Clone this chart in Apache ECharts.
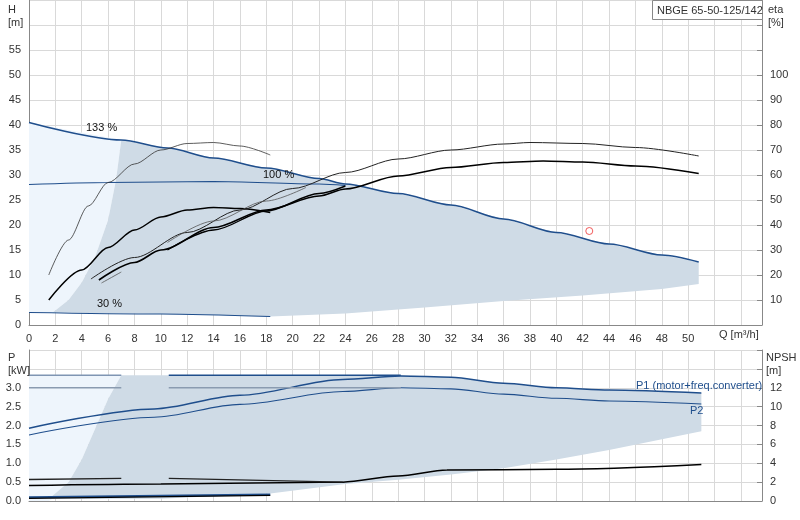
<!DOCTYPE html><html><head><meta charset="utf-8">
<script src="https://cdn.jsdelivr.net/npm/echarts@6/dist/echarts.min.js"></script>
<style>html,body{margin:0;padding:0;background:#fff}#c{width:800px;height:520px}</style></head><body><div id="c"></div>
<script>
// ---- data (Q in m3/h) ----
const maxCurve=[[0,40.5],[7,37],[10.5,35.4],[14,33.4],[18,31.4],[22,29.3],[24,28.2],[28,26.3],[32,24],[36,21.2],[40,18.5],[44,16.2],[48,14],[50.8,12.6]];
const curve100=[[0,28.1],[6,28.5],[14,28.7],[22,28.2],[24,27.9]];
const curve30=[[0,2.5],[10,2.2],[18.3,1.7]];
const darkTopPoly=[[1.8,2.5],[3,5],[4,8.5],[5,13.5],[6,21],[6.6,29],[7,37],[10.5,35.4],[14,33.4],[18,31.4],[22,29.3],[24,28.2],[28,26.3],[32,24],[36,21.2],[40,18.5],[44,16.2],[48,14],[50.8,12.6],[50.8,8.2],[48,7.2],[42,5.9],[36,4.8],[30,3.5],[24,2.3],[18.3,1.7],[10,2.2]];
const lightTopPoly=[[0,40.5],[7,37],[6.6,29],[6,21],[5,13.5],[4,8.5],[3,5],[1.8,2.5],[0,2.5]];
const etaA=[[1.5,10],[3,17],[4.5,23.8],[6,28.5],[8,32.2],[10,35],[12,36.3],[14,36.5],[16,35.8],[18.3,34]];
const etaB=[[1.5,5],[4,11],[6,15.5],[8,19],[10,21.6],[12,23],[14,23.5],[16,23.3],[18.3,22.5]];
const etaC=[[4.7,9.2],[8,13.5],[12,18.5],[16,23],[20,27.3],[24,30.5],[28,33.2],[32,35],[36,36.2],[38,36.5],[42,36.3],[46,35.5],[50.8,33.8]];
const etaD=[[5.3,9],[8,12.5],[10,15],[14,19.5],[18,23],[22,25.8],[24,27.2],[28,29.8],[32,31.5],[36,32.5],[39,32.8],[42,32.6],[46,31.8],[50.8,30.3]];
const etaE=[[10.5,15],[14,19],[18,22.8],[22,26.3],[24,27.8]];
const etaF=[[10.5,16.5],[14,20.8],[18,24.8],[21,27.5]];
const etaG=[[5.5,8.4],[7,10.6]];
const dutyPoint=[[42.5,18.8]];
const p1=[[0,1.93],[9.5,2.44],[16,2.8],[23.8,3.22],[28.2,3.31],[32,3.28],[36,3.12],[40,3.0],[44,2.94],[51,2.86]];
const p2=[[0,1.75],[9.5,2.22],[16,2.56],[23.8,2.9],[28.2,3.0],[32,2.97],[36,2.83],[40,2.72],[44,2.65],[51,2.57]];
const p1LimA=[[0,3.33],[7,3.33]], p1LimB=[[10.6,3.33],[28.2,3.33]];
const p2LimA=[[0,3.0],[7,3.0]], p2LimB=[[10.6,3.0],[28.2,3.0]];
const npsh=[[0,0.41],[10,0.45],[23.8,0.5],[28,0.66],[31.7,0.82],[40,0.84],[51,0.97]];
const npshA=[[0,0.57],[7,0.6]], npshB=[[10.6,0.6],[23.8,0.5]];
const lowBlue=[[0,0.1],[18.3,0.17]], lowBlack=[[0,0.07],[18.3,0.15]];
const darkBotPoly=[[1.5,0.05],[3,0.5],[4,1.1],[5,1.9],[6,2.7],[7,3.33],[28.2,3.33],[32,3.28],[36,3.12],[40,3.0],[44,2.94],[51,2.86],[51,1.85],[44,1.35],[40,1.1],[36,0.87],[32,0.7],[28,0.56],[24,0.45],[18.3,0.2],[10,0.06]];
const lightBotPoly=[[0,3.33],[7,3.33],[6,2.7],[5,1.9],[4,1.1],[3,0.5],[2,0.1],[1.5,0],[0,0]];

const BLUE='#1f4e8c', DARK='#cfdbe6', LIGHT='#eef5fc';
function poly(data,color,xi,yi,z){return {type:'custom',xAxisIndex:xi,yAxisIndex:yi,z:z,silent:true,data:[0],
 renderItem:(p,api)=>({type:'polygon',shape:{points:data.map(d=>api.coord(d))},style:{fill:color}})};}
function ln(data,color,w,xi,yi,z){return {type:'line',data:data,xAxisIndex:xi,yAxisIndex:yi,symbol:'none',smooth:0.3,smoothMonotone:'x',z:z||5,lineStyle:{color:color,width:w},silent:true};}
const dbl=a=>a.map(d=>[d[0],d[1]*2]);
const ch=echarts.init(document.getElementById('c'));
const lblStyle={color:'#333',fontSize:11,fontFamily:'Liberation Sans'};
const sl={show:true,lineStyle:{color:'#d9d9d9',width:1}};
const T=(l,t,s,c,lh)=>({type:'text',left:l,top:t,z:100,style:{text:s,font:'11px Liberation Sans',fill:c||'#333',lineHeight:lh||13}});
ch.setOption({animation:false,
 grid:[{left:29,right:38,top:0,height:325},{left:29,right:38,top:350,height:151}],
 xAxis:[{type:'value',gridIndex:0,min:0,max:55.6,interval:2,axisLine:{lineStyle:{color:'#888'}},axisTick:{show:false},splitLine:sl,
   axisLabel:{...lblStyle,formatter:v=>v<=50?String(v):''}},
  {type:'value',gridIndex:1,min:0,max:55.6,interval:2,axisLine:{lineStyle:{color:'#888'}},axisTick:{show:false},splitLine:sl,axisLabel:{show:false}}],
 yAxis:[{type:'value',gridIndex:0,min:0,max:65,interval:5,axisLine:{show:true,lineStyle:{color:'#888'}},axisTick:{show:false},splitLine:sl,axisLabel:{...lblStyle,formatter:v=>v<=55?String(v):''}},
  {type:'value',gridIndex:0,position:'right',min:0,max:130,interval:10,axisLine:{show:true,lineStyle:{color:'#888'}},axisTick:{show:true,inside:true},splitLine:{show:false},axisLabel:{...lblStyle,formatter:v=>(v>0&&v<=100)?String(v):''}},
  {type:'value',gridIndex:1,min:0,max:4,interval:0.5,axisLine:{show:true,lineStyle:{color:'#888'}},axisTick:{show:false},splitLine:sl,axisLabel:{...lblStyle,formatter:v=>v<=3?v.toFixed(1):''}},
  {type:'value',gridIndex:1,position:'right',min:0,max:16,interval:2,axisLine:{show:true,lineStyle:{color:'#888'}},axisTick:{show:true,inside:true},splitLine:{show:false},axisLabel:{...lblStyle,formatter:v=>v<=12?String(v):''}}],
 series:[
  poly(lightTopPoly,LIGHT,0,0,1),poly(darkTopPoly,DARK,0,0,1),
  poly(lightBotPoly,LIGHT,1,2,1),poly(darkBotPoly,DARK,1,2,1),
  ln(maxCurve,BLUE,1.5,0,0),ln(curve100,BLUE,1.2,0,0),ln(curve30,BLUE,1.2,0,0),
  ln(dbl(etaA),'#333',0.8,0,1),ln(dbl(etaB),'#000',1.5,0,1),ln(dbl(etaC),'#222',1,0,1),ln(dbl(etaD),'#000',1.6,0,1),
  ln(dbl(etaE),'#000',1.4,0,1),ln(dbl(etaF),'#555',0.8,0,1),ln(dbl(etaG),'#555',0.8,0,1),
  {type:'scatter',data:dutyPoint,xAxisIndex:0,yAxisIndex:0,symbol:'circle',symbolSize:7,itemStyle:{color:'transparent',borderColor:'#e33',borderWidth:1},z:6},
  ln(p1,BLUE,1.5,1,2),ln(p2,BLUE,1.1,1,2),
  ln(p1LimA,'#7f95b3',1.5,1,2),ln(p1LimB,BLUE,1.5,1,2),ln(p2LimA,'#8a9bb0',1.5,1,2),ln(p2LimB,'#8a9bb0',1.5,1,2),
  ln(npsh,'#000',1.5,1,2),ln(npshA,'#222',1.4,1,2),ln(npshB,'#222',1.4,1,2),
  ln(lowBlue,BLUE,2,1,2),ln(lowBlack,'#000',1.4,1,2)
 ],
 graphic:[
  T(8,3,'H\n[m]'),T(768,3,'eta\n[%]'),T(8,351,'P\n[kW]'),T(766,351,'NPSH\n[m]'),T(719,328,'Q [m³/h]'),
  {type:'rect',left:652,top:0,z:99,shape:{width:110,height:19},style:{fill:'#fff',stroke:'#888'}},
  T(657,4,'NBGE 65-50-125/142'),
  T(86,121,'133 %','#111'),T(263,168,'100 %','#111'),T(97,297,'30 %','#111'),
  T(636,379,'P1 (motor+freq.converter)','#1f4e8c'),T(690,404,'P2','#1f4e8c')
 ]});
</script></body></html>
